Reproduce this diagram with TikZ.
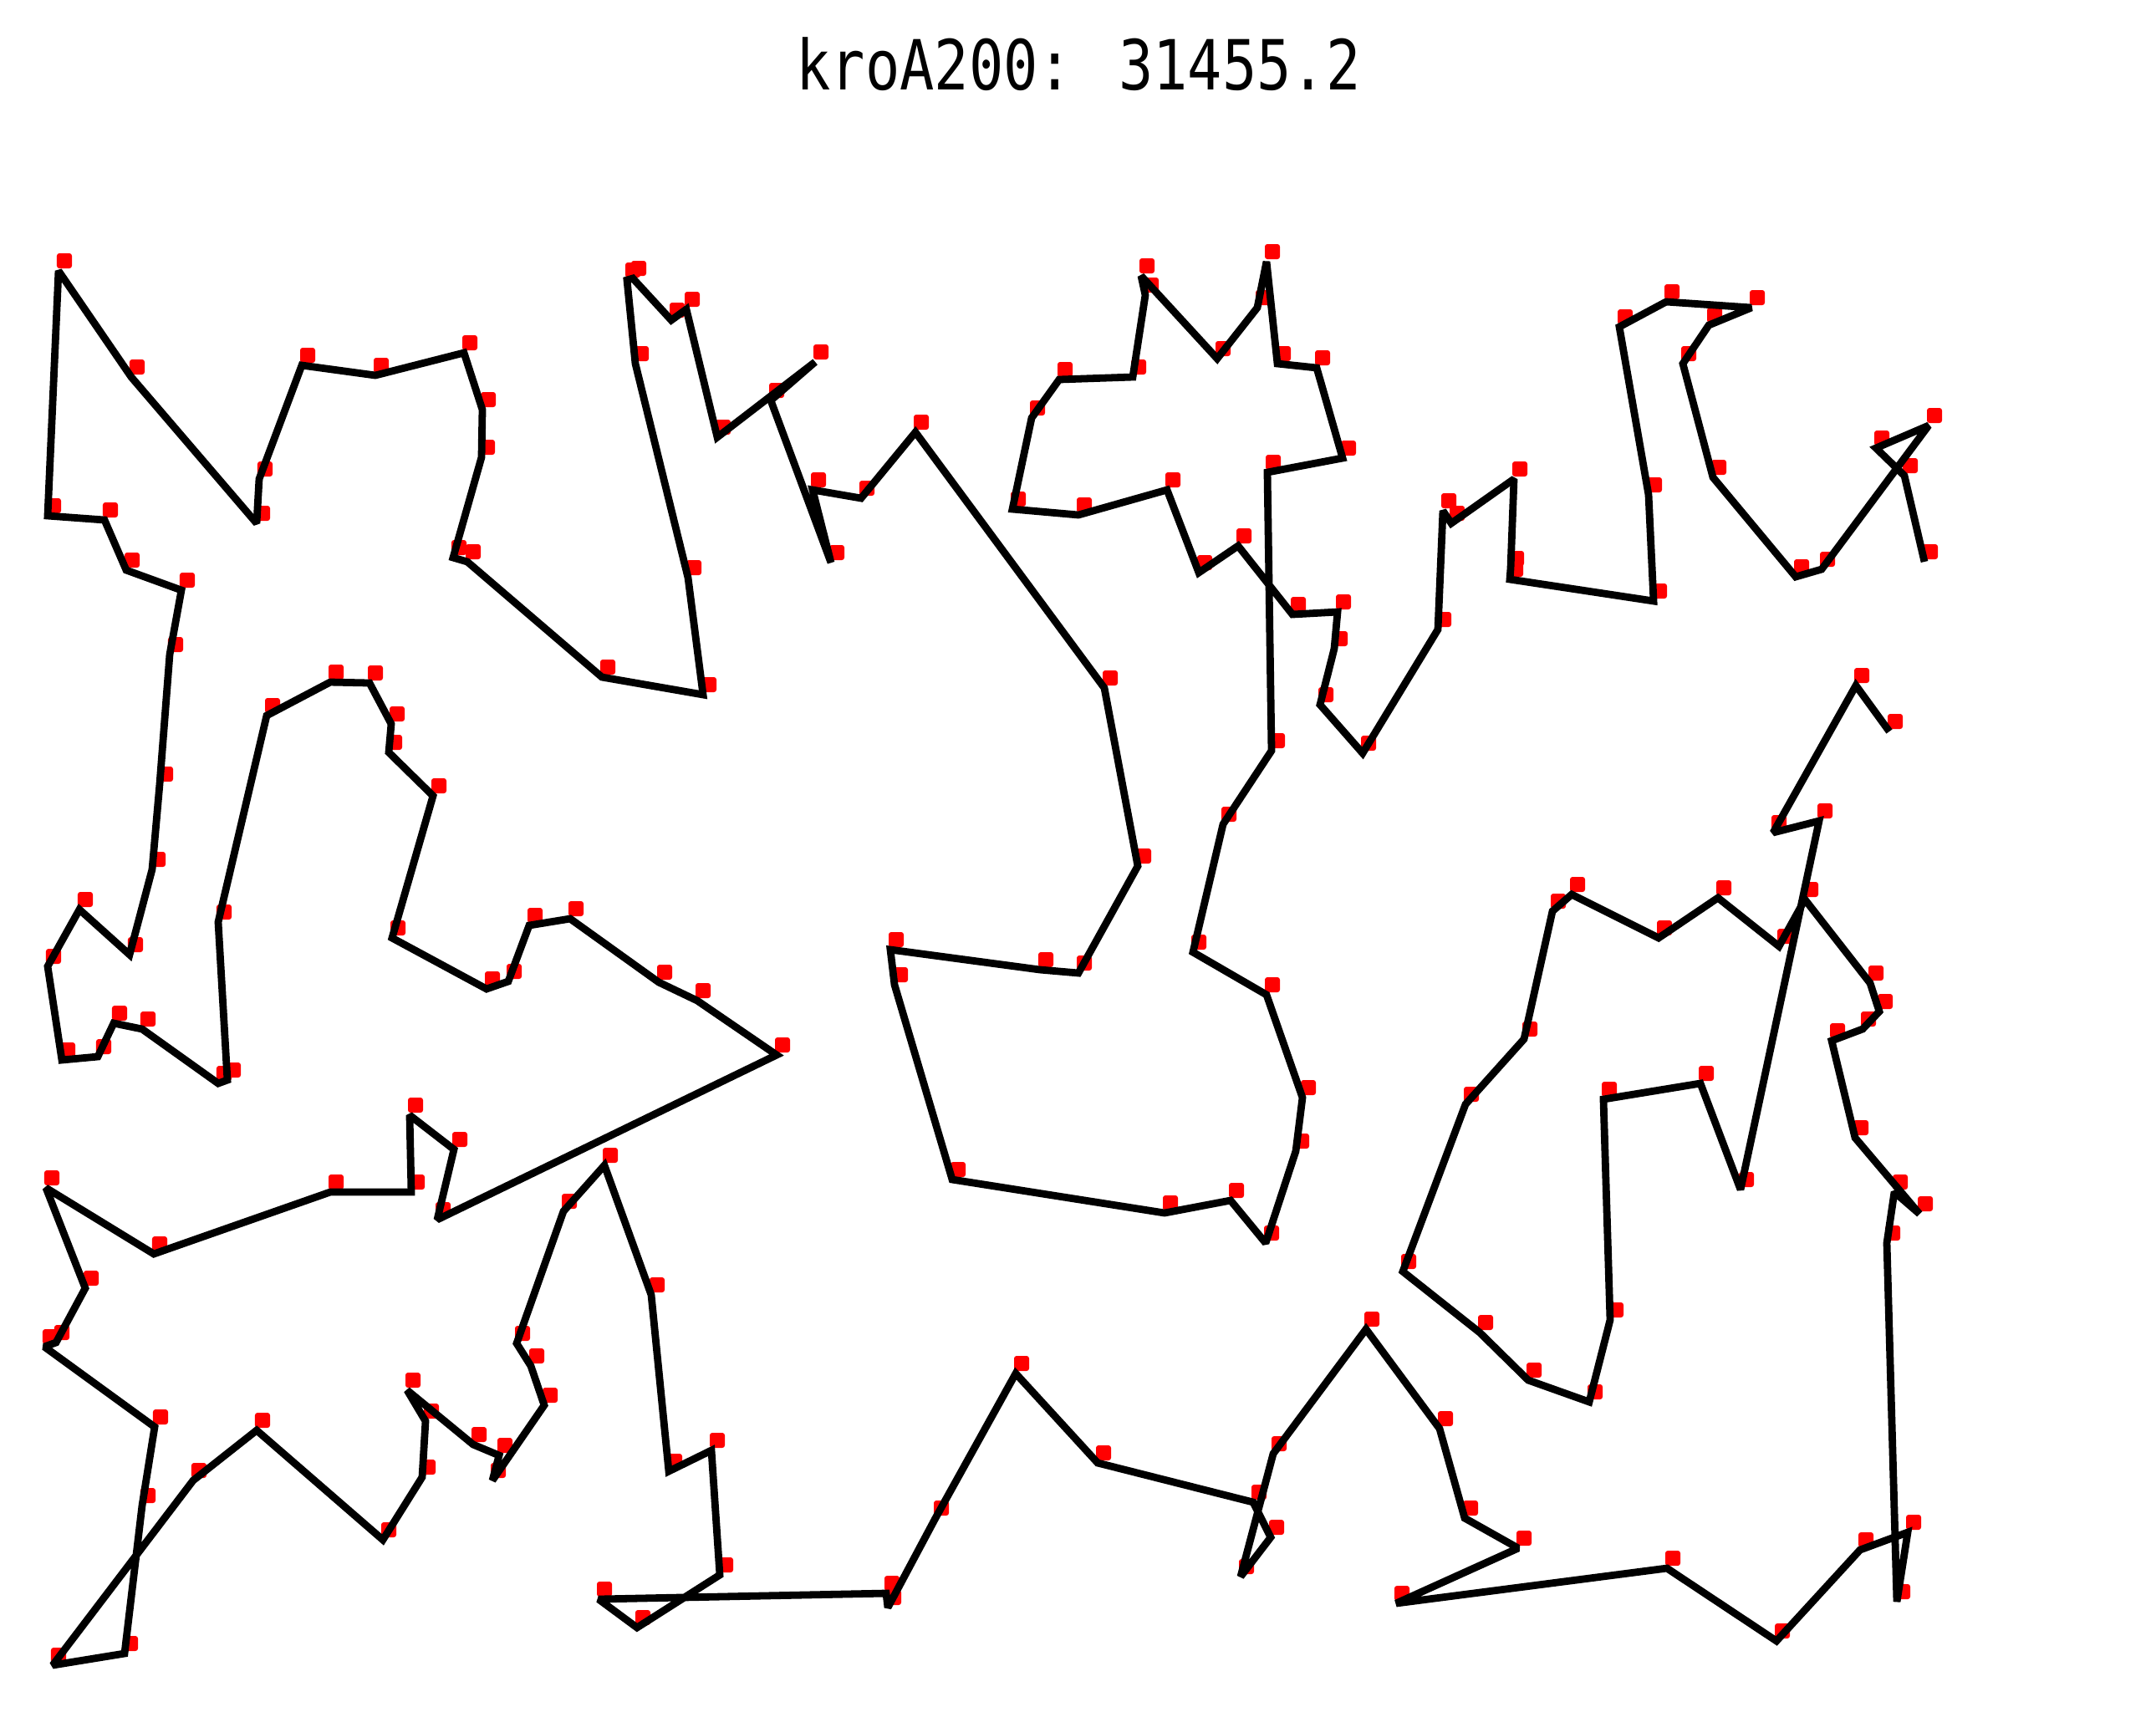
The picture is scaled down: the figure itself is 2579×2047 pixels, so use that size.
\documentclass[tikz,border=0pt]{standalone}
\usepackage{fontspec}
\usepackage{tikz}
\newfontfamily\titlefont{DejaVu Sans Mono}
\definecolor{TourInk}{HTML}{000000}
\definecolor{CityRed}{HTML}{FF0000}
\newcommand{\tourlist}{%
  2302/672, 2278/569, 2244/536, 2307/509, 2179/681, 2148/690, 2049/571, 2013/435,
  2044/389, 2095/368, 1993/361, 1937/391, 1972/592, 1978/719, 1806/693, 1807/680,
  1811/573, 1736/626, 1726/611, 1720/753, 1630/901, 1579/843, 1596/776, 1600/732,
  1546/735, 1481/653, 1434/685, 1396/586, 1290/616, 1211/609, 1234/500, 1267/454,
  1355/451, 1370/353, 1365/330, 1456/429, 1504/368, 1515/313, 1528/435, 1575/440,
  1606/548, 1516/565, 1521/898, 1463/986, 1427/1139, 1515/1190, 1558/1313, 1550/1377,
  1514/1487, 1472/1436, 1393/1451, 1139/1411, 1070/1178, 1065/1136, 1244/1160, 1290/1164,
  1361/1036, 1321/823, 1095/517, 1030/596, 972/586, 994/673, 922/479, 975/433,
  858/523, 821/370, 803/383, 757/333, 750/335, 760/435, 823/691, 841/831,
  720/810, 559/672, 542/667, 576/547, 577/490, 555/422, 449/449, 361/437,
  310/573, 307/626, 157/451, 70/324, 57/617, 125/622, 151/682, 217/706,
  203/783, 191/938, 182/1040, 155/1142, 95/1088, 57/1156, 74/1268, 117/1264,
  136/1224, 170/1231, 261/1296, 272/1292, 261/1103, 319/856, 395/816, 442/817,
  468/866, 465/900, 518/952, 469/1122, 582/1183, 608/1174, 633/1107, 682/1099,
  788/1175, 834/1197, 929/1262, 523/1459, 543/1375, 490/1334, 492/1426, 395/1426,
  184/1500, 55/1421, 102/1541, 67/1606, 53/1611, 185/1707, 170/1801, 149/1978,
  63/1992, 231/1771, 307/1711, 458/1842, 505/1767, 509/1700, 487/1663, 566/1728,
  597/1741, 589/1771, 651/1681, 635/1634, 618/1607, 674/1449, 723/1394, 779/1549,
  800/1760, 851/1735, 861/1884, 762/1947, 716/1913, 1060/1906, 1062/1923, 1119/1816,
  1215/1643, 1313/1750, 1499/1797, 1520/1839, 1484/1886, 1523/1739, 1634/1590, 1722/1709,
  1752/1816, 1816/1852, 1670/1918, 1994/1876, 2125/1963, 2225/1854, 2282/1833, 2269/1916,
  2257/1487, 2266/1426, 2296/1452, 2219/1361, 2191/1245, 2228/1231, 2248/1210, 2237/1176,
  2159/1076, 2128/1132, 2055/1074, 1984/1122, 1880/1070, 1857/1090, 1823/1243, 1753/1321,
  1678/1521, 1770/1594, 1828/1651, 1901/1677, 1926/1579, 1918/1315, 2034/1296, 2082/1423,
  2176/982, 2121/996, 2220/820, 2260/875}
\tikzset{
  figure/.style={x=0.01cm,y=-0.01cm},
  tour/.style={draw=TourInk,line width=2.5pt,miter limit=2},
  city/.style={fill=CityRed,rounded corners=0.3mm,inner sep=0pt,minimum size=0.18cm},
  headline/.style={font=\titlefont\fontsize{21}{24}\selectfont,text=black,anchor=base},
}

\begin{document}
\begin{tikzpicture}[figure]
  \useasboundingbox (0,0) rectangle (2579,2047);
  \node[headline] (title) at (1290,107) {\scalebox{0.93}[1.12]{kroA200: 31455.2}};

  \foreach \x/\y in \tourlist {
    \node[city] at (\x+7,\y-12) {};
  }
  \draw[tour] (2302,672) \foreach \x/\y in \tourlist { -- (\x,\y) };
\end{tikzpicture}
\end{document}
